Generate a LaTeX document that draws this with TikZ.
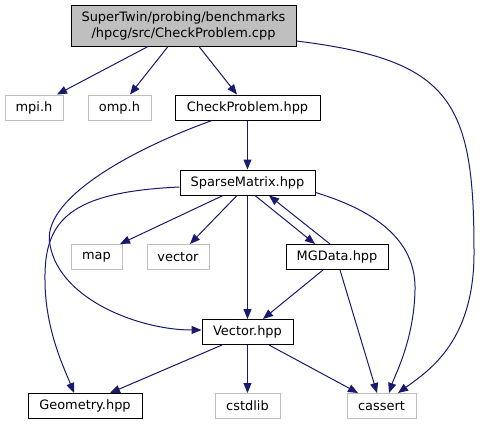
\documentclass[tikz,border=0pt]{standalone}
\usepackage{fontspec}
\setmainfont{DejaVu Sans}
\usetikzlibrary{arrows.meta,calc}
\definecolor{EdgeBlue}{RGB}{25,25,112}
\definecolor{NodeGray}{RGB}{191,191,191}

\begin{document}
\begin{tikzpicture}[x=0.75pt, y=-0.75pt,
  every node/.style={font=\fontsize{9.7}{12}\selectfont, inner xsep=2pt, inner ysep=0pt, minimum height=18.75pt, line width=0.75pt},
  docfile/.style={draw=black, fill=white},
  extfile/.style={draw=NodeGray, fill=white},
  rootfile/.style={draw=black, fill=NodeGray, align=center, minimum height=30.75pt},
  dep/.style={-{Triangle[length=7.5pt, width=6pt]}, line width=0.75pt, EdgeBlue}]
\useasboundingbox (0,0) rectangle (483,425);

\node[rootfile, minimum width=168.75pt] (root) at (183.5,25.5) {SuperTwin/probing/benchmarks\\/hpcg/src/CheckProblem.cpp};
\node[extfile, minimum width=43.5pt] (mpi) at (34,107.5) {mpi.h};
\node[extfile, minimum width=47.25pt] (omp) at (119.5,107.5) {omp.h};
\node[docfile, minimum width=108.75pt] (checkhpp) at (247.5,107.5) {CheckProblem.hpp};
\node[docfile, minimum width=101.25pt] (sparse) at (247.5,182.5) {SparseMatrix.hpp};
\node[extfile, minimum width=38.25pt] (map) at (96.5,257) {map};
\node[extfile, minimum width=46.5pt] (vec) at (178,257) {vector};
\node[docfile, minimum width=76.5pt] (mgdata) at (337,257) {MGData.hpp};
\node[docfile, minimum width=68.25pt] (vechpp) at (247.5,332) {Vector.hpp};
\node[docfile, minimum width=85.5pt] (geom) at (85,406) {Geometry.hpp};
\node[extfile, minimum width=48.75pt] (cstdlib) at (247.5,406) {cstdlib};
\node[extfile, minimum width=51.75pt] (cassert) at (381.5,406) {cassert};

% includes of CheckProblem.cpp
\draw[dep] ($(root.south)+(-35.5,0)$) -- ($(mpi.north)+(23,0)$);
\draw[dep] ($(root.south)+(-15.5,0)$) -- ($(omp.north)+(10.5,0)$);
\draw[dep] ($(root.south)+(15.5,0)$) -- ($(checkhpp.north)+(-10.5,0)$);
\draw[dep] ($(root.east)+(0,15.5)$) .. controls (450,60) and (474,100) .. (474,250)
  .. controls (475,340) and (430,370) .. ($(cassert.north)+(16.5,0)$);

% CheckProblem.hpp
\draw[dep] (checkhpp) -- (sparse);
\draw[dep] ($(checkhpp.south)+(-35.5,0)$) .. controls (130,150) and (40,200) .. (50,245)
  .. controls (60,300) and (140,330) .. ($(vechpp.west)+(0,-2)$);

% SparseMatrix.hpp
\draw[dep] ($(sparse.west)+(0,4.5)$) .. controls (70,192) and (44,220) .. (45,280)
  .. controls (45,330) and (65,370) .. ($(geom.north)+(-11,0)$);
\draw[dep] ($(sparse.south)+(-24.5,0)$) -- ($(map.north)+(23.5,0)$);
\draw[dep] ($(sparse.south)+(-10.5,0)$) -- ($(vec.north)+(12,0)$);
\draw[dep] (sparse) -- (vechpp);
\draw[dep] ($(sparse.south)+(7.5,0)$) -- ($(mgdata.north)+(-22,0)$);
\draw[dep] ($(sparse.east)+(0,10)$) .. controls (390,215) and (416,250) .. (415,290)
  .. controls (414,340) and (395,375) .. ($(cassert.north)+(7.5,0)$);

% MGData.hpp
\draw[dep] ($(mgdata.north)+(-7,0)$) -- ($(sparse.south)+(21.5,0)$);
\draw[dep] ($(mgdata.south)+(-14,0)$) -- ($(vechpp.north)+(15.5,0)$);
\draw[dep] ($(mgdata.south)+(3,0)$) -- ($(cassert.north)+(-4.5,0)$);

% Vector.hpp
\draw[dep] ($(vechpp.south)+(-25.5,0)$) -- ($(geom.north)+(25,0)$);
\draw[dep] (vechpp) -- (cstdlib);
\draw[dep] ($(vechpp.south)+(21.5,0)$) -- ($(cassert.north)+(-23.5,0)$);
\end{tikzpicture}
\end{document}
